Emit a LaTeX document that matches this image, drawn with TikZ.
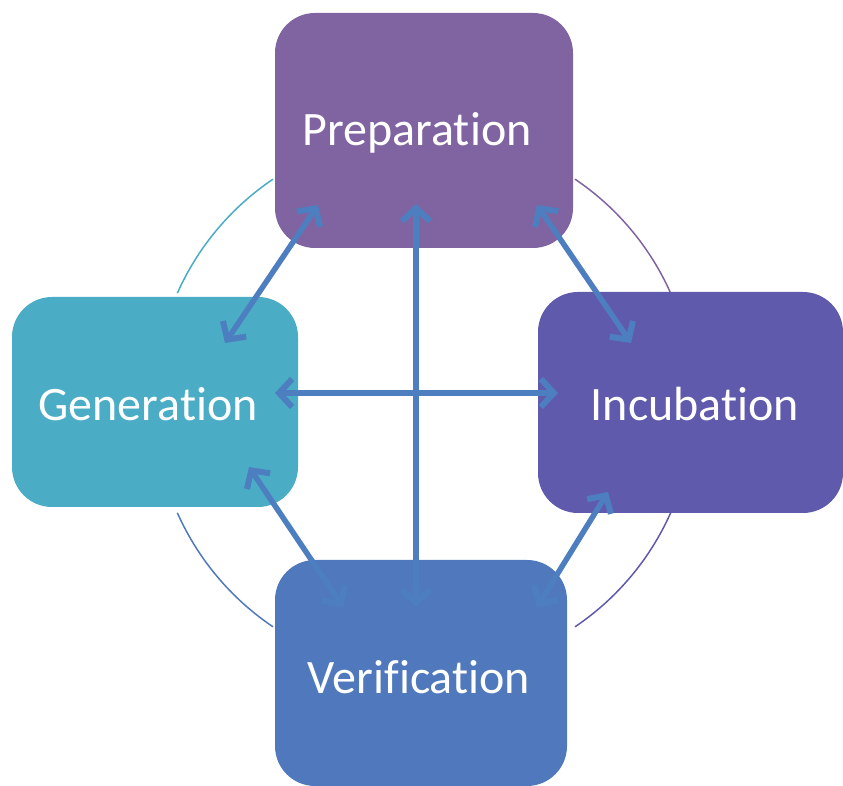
\documentclass[tikz,border=0pt]{standalone}
\usepackage{fontspec}
\setmainfont{Carlito}[Ligatures={NoCommon,NoRare}]
\usetikzlibrary{arrows.meta}
\definecolor{cprep}{HTML}{8064A2}
\definecolor{cgen}{HTML}{4BACC6}
\definecolor{cinc}{HTML}{5F5AAC}
\definecolor{cver}{HTML}{5079BD}
\definecolor{carrow}{HTML}{4D7EC0}
\newcommand{\nolig}{\kern0pt }
\tikzset{
  stagebox/.style={rounded corners=40pt, inner sep=0pt, text=white,
    font=\fontsize{48}{56}\selectfont},
  ringarc/.style={line width=1.5pt},
  link/.style={draw=carrow, line width=5.5pt,
    {Straight Barb[length=13pt,width=28pt,line width=6pt]}-{Straight Barb[length=13pt,width=28pt,line width=6pt]}}
}
\begin{document}
\begin{tikzpicture}[x=1pt,y=1pt]
\useasboundingbox (0,0) rectangle (843,786);
% ring
\coordinate (ctr) at (424,383);
\draw[ringarc, draw=cgen] (ctr) ++(124:270) arc[start angle=124, end angle=156, radius=270];
\draw[ringarc, draw=cprep] (ctr) ++(24:270) arc[start angle=24, end angle=56, radius=270];
\draw[ringarc, draw=cinc] (ctr) ++(-56:270) arc[start angle=-56, end angle=-24, radius=270];
\draw[ringarc, draw=cver] (ctr) ++(204:270) arc[start angle=204, end angle=236, radius=270];
% boxes
\node[stagebox, fill=cprep, minimum width=298pt, minimum height=235pt] (prep) at (424,655.5) {};
\node[stagebox, fill=cgen, minimum width=286pt, minimum height=210pt] (gen) at (155,384) {};
\node[stagebox, fill=cinc, minimum width=305pt, minimum height=221pt] (inc) at (690.5,383.5) {};
\node[stagebox, fill=cver, minimum width=292pt, minimum height=226pt] (ver) at (421,113) {};
\node[stagebox] (tprep) at (417,653) {Preparat\nolig ion};
\node[stagebox] (tgen) at (148,382) {Generat\nolig ion};
\node[stagebox] (tinc) at (695,382) {Incubat\nolig ion};
\node[stagebox] (tver) at (419,109) {Verificat\nolig ion};
% arrow ends
\coordinate (pg1) at (318,581); \coordinate (pg2) at (225,443);
\coordinate (pi1) at (537,581); \coordinate (pi2) at (631,443);
\coordinate (gv1) at (249,319); \coordinate (gv2) at (343,179);
\coordinate (iv1) at (608,294); \coordinate (iv2) at (537,179);
\coordinate (pv1) at (416,582); \coordinate (pv2) at (416,179);
\coordinate (gi1) at (275,393); \coordinate (gi2) at (558,393);
\draw[link] (pv1) -- (pv2);
\draw[link] (gi1) -- (gi2);
\draw[link] (pg1) -- (pg2);
\draw[link] (pi1) -- (pi2);
\draw[link] (gv1) -- (gv2);
\draw[link] (iv1) -- (iv2);
\end{tikzpicture}
\end{document}
